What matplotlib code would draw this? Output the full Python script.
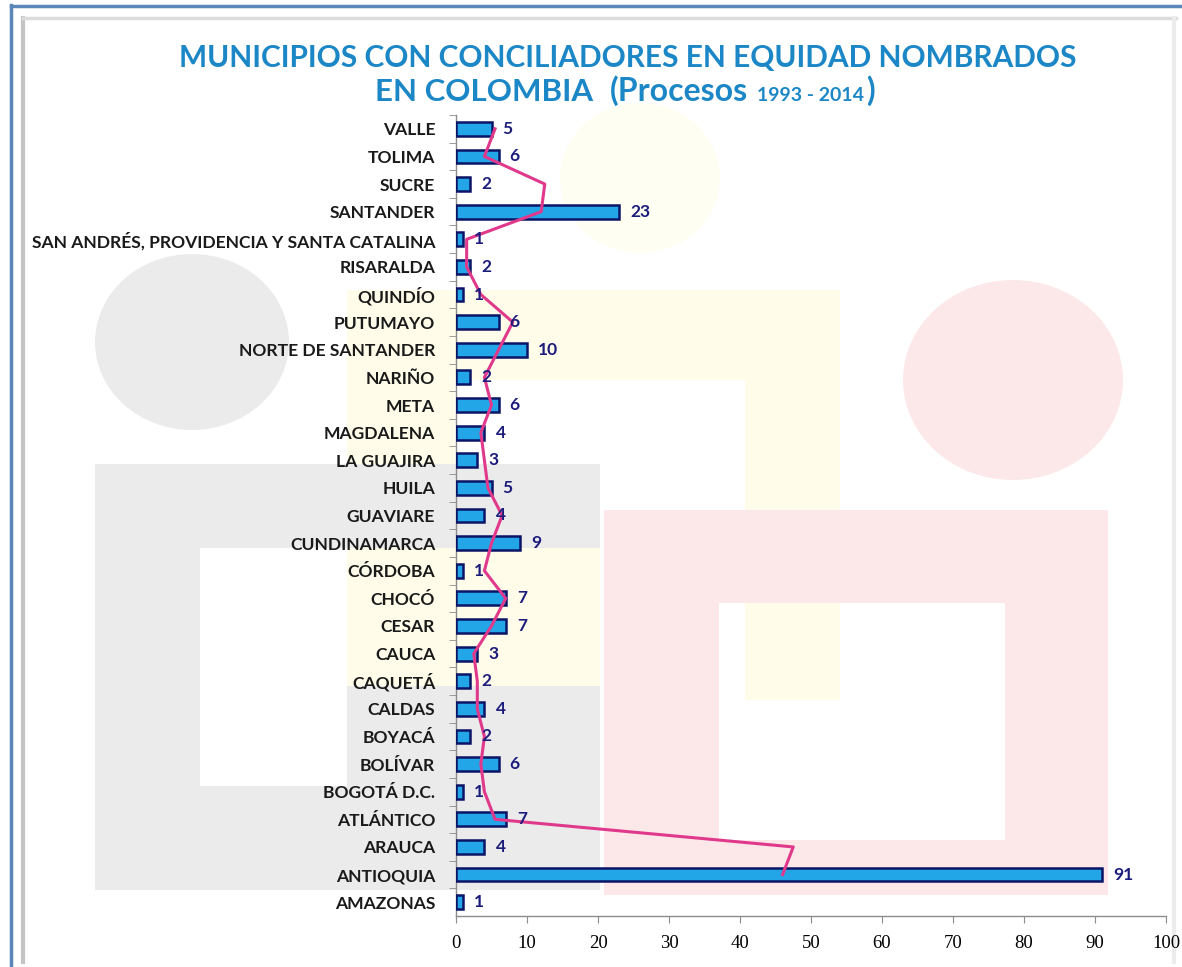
import matplotlib
matplotlib.use("Agg")
import matplotlib.pyplot as plt
import matplotlib.transforms as mtransforms
from matplotlib.patches import Rectangle, Ellipse
from matplotlib.lines import Line2D

# ---------------- data ----------------
departments = [
    "AMAZONAS", "ANTIOQUIA", "ARAUCA", "ATLÁNTICO", "BOGOTÁ D.C.", "BOLÍVAR",
    "BOYACÁ", "CALDAS", "CAQUETÁ", "CAUCA", "CESAR", "CHOCÓ", "CÓRDOBA",
    "CUNDINAMARCA", "GUAVIARE", "HUILA", "LA GUAJIRA", "MAGDALENA", "META",
    "NARIÑO", "NORTE DE SANTANDER", "PUTUMAYO", "QUINDÍO", "RISARALDA",
    "SAN ANDRÉS, PROVIDENCIA Y SANTA CATALINA", "SANTANDER", "SUCRE",
    "TOLIMA", "VALLE",
]
municipios = [1, 91, 4, 7, 1, 6, 2, 4, 2, 3, 7, 7, 1, 9, 4, 5, 3, 4, 6, 2,
              10, 6, 1, 2, 1, 23, 2, 6, 5]
# trend line (2-period moving average), ANTIOQUIA..VALLE
trend = [46, 47.5, 5.5, 4, 3.5, 4, 3, 3, 2.5, 5, 7, 4, 5, 6.5, 4.5, 4, 3.5,
         5, 4, 6, 8, 3.5, 1.5, 1.5, 12, 12.5, 4, 5.5]
x_ticks = [0, 10, 20, 30, 40, 50, 60, 70, 80, 90, 100]

W, H = 1182, 967
fig = plt.figure(figsize=(W / 100, H / 100), dpi=100)
fig.patch.set_facecolor("white")


def fx(x):
    return x / W


def fy(y):
    return 1 - y / H


def rect(x0, y0, x1, y1, color):
    fig.add_artist(Rectangle((fx(x0), fy(y1)), fx(x1) - fx(x0), fy(y0) - fy(y1),
                             transform=fig.transFigure, facecolor=color,
                             edgecolor="none", zorder=0))


def ell(cx, cy, rx, ry, color):
    fig.add_artist(Ellipse((fx(cx), fy(cy)), 2 * rx / W, 2 * ry / H,
                           transform=fig.transFigure, facecolor=color,
                           edgecolor="none", zorder=0))


# ---------------- faint watermark logo ----------------
GREY = "#ebebeb"
YEL = "#fffdea"
RED = "#fce8e8"
WHITE = "#ffffff"
# yellow
ell(640, 178, 80, 75, "#fffef3")
rect(347, 290, 840, 380, YEL)
rect(347, 290, 455, 870, YEL)
rect(745, 290, 840, 700, YEL)
# grey
ell(192, 342, 97, 88, GREY)
rect(95, 464, 600, 890, GREY)
rect(200, 548, 347, 786, WHITE)
rect(347, 548, 600, 686, YEL)
# red
ell(1013, 380, 110, 100, RED)
rect(604, 510, 1108, 895, RED)
rect(719, 603, 1005, 840, WHITE)
rect(745, 603, 840, 700, YEL)

# ---------------- frame ----------------
fig.add_artist(Line2D([fx(11), fx(11)], [fy(5), fy(967)], transform=fig.transFigure,
                      color="#5b87b8", lw=2.5, zorder=1))
fig.add_artist(Line2D([fx(11), fx(1182)], [fy(5.5), fy(5.5)], transform=fig.transFigure,
                      color="#5b87b8", lw=2.5, zorder=1))
fig.add_artist(Line2D([fx(23), fx(23)], [fy(18), fy(962)], transform=fig.transFigure,
                      color="#c4c4c4", lw=3, zorder=1))
fig.add_artist(Line2D([fx(23), fx(1176)], [fy(18), fy(18)], transform=fig.transFigure,
                      color="#dcdcdc", lw=2.5, zorder=1))
fig.add_artist(Line2D([fx(1174), fx(1174)], [fy(18), fy(962)], transform=fig.transFigure,
                      color="#ececec", lw=3, zorder=1))

# ---------------- axes ----------------
ax_left, ax_right = 456, 1166
ax_top, ax_bottom = 115, 916
ax = fig.add_axes([fx(ax_left), fy(ax_bottom), fx(ax_right) - fx(ax_left),
                   fy(ax_top) - fy(ax_bottom)])
ax.set_facecolor("none")
ax.set_zorder(2)

ypos = list(range(len(departments)))
ax.barh(ypos, municipios, height=0.5, color="#22a6e8", edgecolor="#0c1466",
        linewidth=1.8, zorder=3)
ax.plot(trend, ypos[1:], color="#e0398c", lw=2.2, zorder=4)

for yv, v in zip(ypos, municipios):
    ax.annotate(str(v), xy=(v, yv), xytext=(8, 0), textcoords="offset points",
                ha="left", va="center", fontsize=12.5, fontweight="bold",
                family="Lato", color="#1c1c7c", zorder=5)

ax.set_xlim(0, 100)
ax.set_ylim(-0.5, len(departments) - 0.5)
ax.set_xticks(x_ticks)
ax.set_xticklabels([str(t) for t in x_ticks], family="Liberation Serif",
                   fontsize=13.5)
ax.tick_params(axis="x", direction="out", length=5, color="#8c8c8c", pad=9)

ax.set_yticks(ypos)
ax.set_yticklabels(departments, family="Lato", fontweight="bold", fontsize=12.6,
                   color="#1a1a1a")
ax.tick_params(axis="y", which="major", length=0, pad=15)
ax.set_yticks([p + 0.5 for p in ypos], minor=True)
ax.tick_params(axis="y", which="minor", direction="out", length=5, color="#8c8c8c")

for s in ["top", "right"]:
    ax.spines[s].set_visible(False)
for s in ["left", "bottom"]:
    ax.spines[s].set_color("#8c8c8c")
    ax.spines[s].set_linewidth(1.0)

# ---------------- title ----------------
TCOL = "#1c87c6"
tkw = dict(fontweight="bold", family="Lato", color=TCOL, va="baseline")
fig.text(fx(628), fy(67), "MUNICIPIOS CON CONCILIADORES EN EQUIDAD NOMBRADOS",
         ha="center", fontsize=21.5, **tkw)
fig.text(fx(375), fy(101), "EN COLOMBIA", ha="left", fontsize=22.5, **tkw)
t2 = fig.text(fx(610), fy(101), "(Procesos", ha="left", fontsize=23, **tkw)
blend = mtransforms.blended_transform_factory(mtransforms.IdentityTransform(),
                                              fig.transFigure)
t3 = fig.text(0, fy(101), "1993 - 2014", fontsize=14, ha="left",
              transform=blend, **tkw)
t4 = fig.text(0, fy(101), ")", fontsize=23, ha="left", transform=blend, **tkw)
r = fig.canvas.get_renderer()
bb2 = t2.get_window_extent(r)
t3.set_x(bb2.x1 + 9)
bb3 = t3.get_window_extent(r)
t4.set_x(bb3.x1 + 2)

fig.savefig("out.png", dpi=100)
